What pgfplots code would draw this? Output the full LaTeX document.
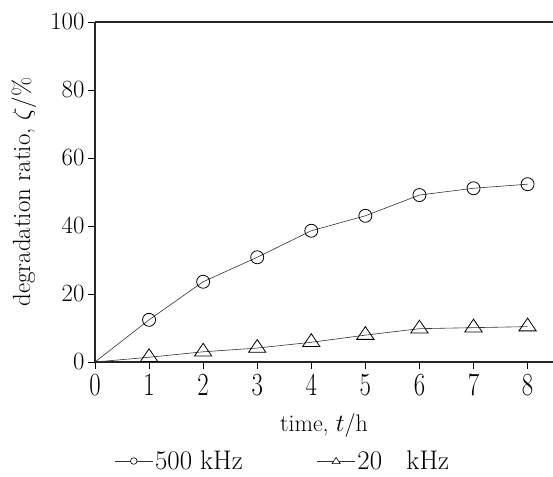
\documentclass[border=0pt]{standalone}
\usepackage{fontspec}
\usepackage{pgfplots}
\usepackage{graphicx}
\pgfplotsset{compat=1.18}
\begin{document}
\begin{tikzpicture}
\path[use as bounding box] (-95bp,-115bp) rectangle (458bp,22bp+340bp);
\begin{axis}[
  at={(0,0)}, anchor=south west,
  scale only axis, width=458bp, height=340bp,
  xmin=0, xmax=8.47, ymin=0, ymax=100,
  axis x line=box, axis y line=left,
  axis line style={-, line width=1.1bp, black!85},
  xtick={0,...,8}, ytick={0,20,...,100},
  xtick pos=bottom, ytick pos=left,
  tick align=outside, major tick length=7bp,
  tick style={line width=0.8bp, black},
  tick label style={font=\fontsize{23}{23}\selectfont},
  xticklabel={\scalebox{1}[1.3]{$\pgfmathprintnumber{\tick}$}},
  xticklabel style={yshift=-2bp},
  xlabel={time, $t$/h},
  ylabel={degradation ratio, $\zeta$/\%},
  xlabel style={font=\fontsize{24}{26}\selectfont, at={(axis description cs:0.5,0)}, anchor=center, yshift=-64bp},
  ylabel style={font=\fontsize{25}{26}\selectfont, at={(axis description cs:0,0.5)}, anchor=center, yshift=71bp},
  clip=false,
  legend columns=2,
  legend style={draw=none, fill=none, at={(axis description cs:0.41,0)}, anchor=center, yshift=-99bp,
    font=\fontsize{27}{28}\selectfont, inner sep=0pt,
    /tikz/every even column/.append style={column sep=72bp}},
  legend cell align=left,
]
\addplot[black!80, line width=0.6bp, mark=o, mark size=6.5bp, mark indices={2,3,4,5,6,7,8,9},
  mark options={fill=white, line width=0.8bp, black},
  legend image code/.code={\draw[black!80, line width=0.6bp] (0bp,0bp) -- (38bp,0bp);
    \draw[black, line width=0.6bp, fill=white] (19bp,0bp) circle (3.3bp);}]
  coordinates {(0,0) (1,12.4) (2,23.6) (3,30.8) (4,38.6) (5,43.0) (6,49.1) (7,51.1) (8,52.3)};
\addlegendentry{500 kHz}
\addplot[black!80, line width=0.6bp, mark=triangle, mark size=10bp, mark indices={2,3,4,5,6,7,8,9},
  mark options={fill=white, line width=0.8bp, black, yscale=0.85},
  legend image code/.code={\draw[black!80, line width=0.6bp] (0bp,0bp) -- (38bp,0bp);
    \draw[black, line width=0.6bp, fill=white] (15bp,-2.6bp) -- (23bp,-2.6bp) -- (19bp,3.6bp) -- cycle;}]
  coordinates {(0,0) (1,1.4) (2,3.0) (3,4.1) (4,5.8) (5,7.9) (6,9.8) (7,10.1) (8,10.4)};
\addlegendentry{20\ \ \ kHz}
\end{axis}
\end{tikzpicture}
\end{document}
